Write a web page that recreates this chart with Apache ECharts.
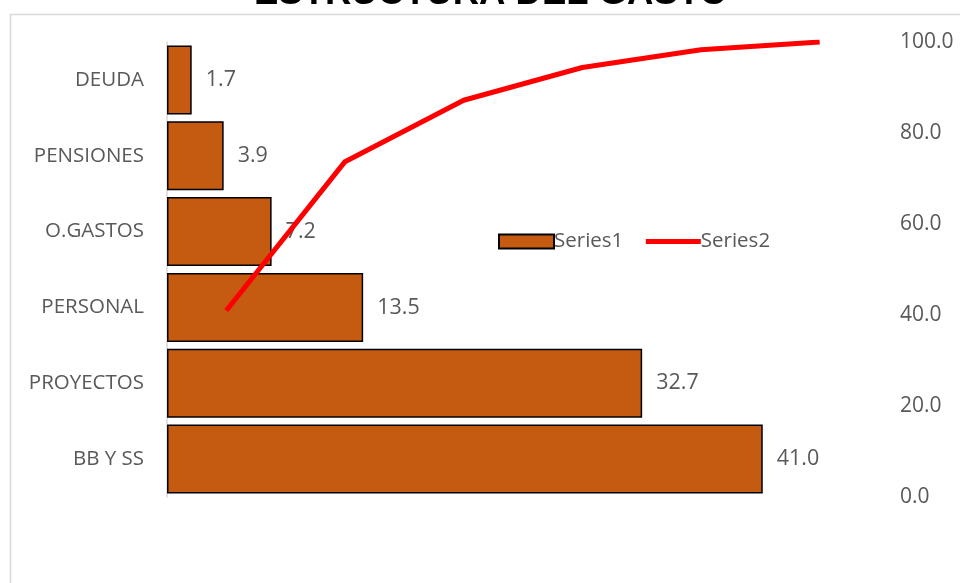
<!DOCTYPE html>
<html><head><meta charset="utf-8">
<script src="https://cdn.jsdelivr.net/npm/echarts@6/dist/echarts.min.js"></script>
<style>html,body{margin:0;padding:0;background:#fff}#c{width:960px;height:583px}</style>
</head><body><div id="c"></div>
<script>
const titleText = 'ESTRUCTURA DEL GASTO';
const categories = ['BB Y SS','PROYECTOS','PERSONAL','O.GASTOS','PENSIONES','DEUDA'];
const series1 = [41.0, 32.7, 13.5, 7.2, 3.9, 1.7];
const series2 = [41.0, 73.7, 87.2, 94.4, 98.3, 100.0];
const rightTicks = [0, 20, 40, 60, 80, 100];
const font = 'Open Sans';
const chart = echarts.init(document.getElementById('c'));
chart.setOption({
  animation:false,
  backgroundColor:'#fff',
  textStyle:{fontFamily:font},
  graphic:[{type:'rect',shape:{x:10.5,y:14.5,width:980,height:600},style:{fill:'none',stroke:'#d9d9d9',lineWidth:1.5},z:-1}],
  title:{text:titleText,left:254,top:-25,padding:0,textStyle:{fontFamily:'Liberation Sans',fontWeight:'bold',fontSize:36.5,color:'#000'}},
  legend:{left:493,top:226,itemGap:20,itemWidth:55,itemHeight:14,textStyle:{fontSize:20.5,color:'#595959',padding:[0,0,0,-5]},
    data:[{name:'Series1',icon:'rect'},{name:'Series2',itemStyle:{opacity:0},lineStyle:{color:'#ff0000',width:5}}]},
  grid:{left:167,right:81,top:42,bottom:86},
  xAxis:[
    {type:'value',min:0,max:49,show:false},
    {type:'category',data:categories,show:false,boundaryGap:true}
  ],
  yAxis:[
    {type:'category',data:categories,axisLine:{show:true,lineStyle:{color:'#d9d9d9',width:1.5}},axisTick:{show:false},
     axisLabel:{fontSize:20.5,color:'#595959',margin:23}},
    {type:'value',min:0,max:100,interval:20,position:'right',splitLine:{show:false},axisLine:{show:false},axisTick:{show:false},
     axisLabel:{fontSize:21,color:'#595959',margin:21,formatter:v=>v.toFixed(1)}}
  ],
  series:[
    {name:'Series1',type:'bar',data:series1,xAxisIndex:0,yAxisIndex:0,barCategoryGap:'9%',
     itemStyle:{color:'#C55A11',borderColor:'#000',borderWidth:1.5},
     label:{show:true,position:'right',distance:14,fontSize:21.5,color:'#595959',formatter:p=>p.value.toFixed(1)}},
    {name:'Series2',type:'line',data:series2,xAxisIndex:1,yAxisIndex:1,showSymbol:false,symbol:'none',z:5,
     lineStyle:{color:'#ff0000',width:5},itemStyle:{color:'#ff0000'}}
  ]
});
</script></body></html>
